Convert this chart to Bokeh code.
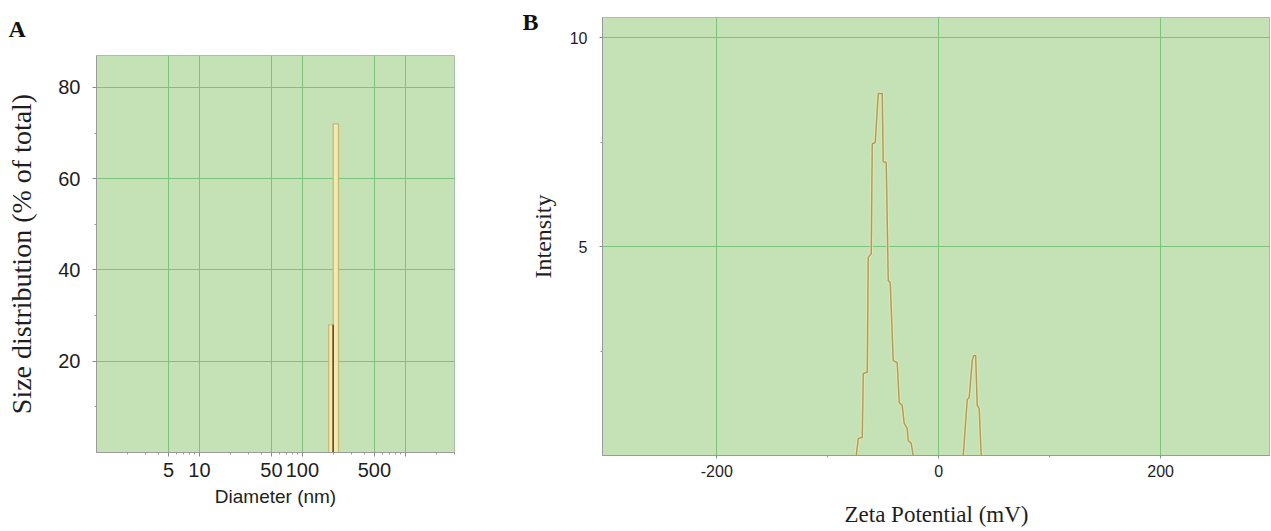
from bokeh.plotting import figure
from bokeh.layouts import row, column
from bokeh.models import FixedTicker, Range1d, LinearAxis, Title
from bokeh.embed import file_html
from bokeh.resources import INLINE

# ---------------- data ----------------
# Panel A: size distribution bars (diameter bin edges in nm, % of total)
size_bin_left = [180, 199]
size_bin_right = [199, 224]
size_pct = [28, 72]
size_major_ticks = [5, 10, 50, 100, 500, 1000]
size_tick_labels = ["5", "10", "50", "100", "500", ""]
size_minor_ticks = [2, 3, 4, 6, 7, 8, 9, 20, 30, 40, 60, 70, 80, 90,
                    200, 300, 400, 600, 700, 800, 900, 2000, 3000]
pct_major_ticks = [20, 40, 60, 80]
pct_minor_ticks = [10, 30, 50, 70]

# Panel B: zeta potential intensity curve (two peaks)
zeta1_mv = [-74.3, -72.5, -68.9, -68.0, -64.4, -63.5, -60.8, -59.9, -57.2, -54.5,
            -50.9, -50.0, -47.3, -45.5, -43.7, -41.0, -37.4, -35.6, -32.9, -31.1,
            -28.4, -27.5, -24.8, -23.0]
zeta1_int = [0.0, 0.41, 0.43, 1.96, 1.99, 4.74, 4.83, 7.46, 7.49, 8.66,
             8.66, 7.03, 7.01, 4.19, 4.14, 2.27, 2.22, 1.27, 1.20, 0.77,
             0.65, 0.36, 0.29, 0.0]
zeta2_mv = [22.1, 25.7, 27.5, 30.2, 31.5, 33.3, 34.7, 36.5, 38.3]
zeta2_int = [0.0, 1.34, 1.39, 2.27, 2.39, 2.39, 1.20, 1.12, 0.0]
zeta_major_ticks = [-200, 0, 200]
zeta_tick_labels = ["-200", "0", "200"]
zeta_minor_ticks = [-100, 100]
int_major_ticks = [5, 10]
int_minor_ticks = [2.5, 7.5]

# panel letters
panel_letters = ["A", "B"]
letterB_level = 10.38   # vertical place of the "B" letter, on panel B's intensity scale

# ---------------- style ----------------
BG = "#c5e2b6"
GRID = "#7cc47c"
TXT = "#1e1e1e"
SANS = "Liberation Sans"
SERIF = "Liberation Serif"
H = 530


def style_axes(p, tick_size):
    for ax in (p.xaxis, p.yaxis):
        ax.major_tick_in = 0
        ax.major_tick_out = 4
        ax.minor_tick_in = 0
        ax.minor_tick_out = 2
        ax.axis_line_color = "#9a9a9a"
        ax.major_tick_line_color = "#8a8a8a"
        ax.minor_tick_line_color = "#9a9a9a"
        ax.major_label_text_font = SANS
        ax.major_label_text_font_size = tick_size
        ax.major_label_text_color = TXT
        ax.axis_label_text_font = SERIF
        ax.axis_label_text_font_style = "normal"
        ax.axis_label_text_color = TXT
    p.background_fill_color = BG
    p.border_fill_color = "white"
    p.outline_line_color = "#a8bfa8"
    p.xgrid.grid_line_color = GRID
    p.ygrid.grid_line_color = GRID
    p.xgrid.grid_line_width = 1
    p.ygrid.grid_line_width = 1


# ---------------- Panel A ----------------
pA = figure(width=508, height=H, x_axis_type="log",
            x_range=Range1d(1, 3000), y_range=Range1d(0, 87),
            output_backend="svg", toolbar_location=None,
            min_border_left=96, min_border_right=54,
            min_border_top=55, min_border_bottom=H - 452)
pA.title = Title(text=panel_letters[0], align="left", offset=-88, standoff=24,
                 vertical_align="top", text_line_height=1.0,
                 text_font=SERIF, text_font_style="bold", text_font_size="24px",
                 text_color="#111111")
style_axes(pA, "20px")
pA.xaxis.ticker = FixedTicker(ticks=size_major_ticks, minor_ticks=size_minor_ticks)
pA.xgrid.ticker = FixedTicker(ticks=size_major_ticks)
pA.xaxis.major_label_overrides = {t: l for t, l in zip(size_major_ticks, size_tick_labels)}
pA.yaxis.ticker = FixedTicker(ticks=pct_major_ticks, minor_ticks=pct_minor_ticks)
pA.ygrid.ticker = FixedTicker(ticks=pct_major_ticks)
pA.xaxis.axis_label = "Diameter (nm)"
pA.xaxis.axis_label_text_font = SANS
pA.xaxis.axis_label_text_font_size = "19px"
pA.xaxis.major_label_standoff = 6
pA.xaxis.axis_label_standoff = 6
pA.yaxis.axis_label = "Size distribution (% of total)"
pA.yaxis.axis_label_text_font_size = "28px"
pA.yaxis.major_label_standoff = 12
pA.yaxis.axis_label_standoff = 18

pA.quad(left=size_bin_left, right=size_bin_right, bottom=0, top=size_pct,
        fill_color="#eef0b4", fill_alpha=0.9, line_color="#c9b56a", line_width=1.2)
pA.segment(x0=size_bin_right[:1], y0=[0], x1=size_bin_right[:1], y1=size_pct[:1],
           line_color="#8a3b1e", line_width=1.6)

# ---------------- Panel B ----------------
pB = figure(width=762, height=H,
            x_range=Range1d(-303, 299), y_range=Range1d(0, 10.48),
            output_backend="svg", toolbar_location=None,
            min_border_left=94, min_border_right=0,
            min_border_top=17, min_border_bottom=H - 455)
style_axes(pB, "16px")
pB.xaxis.ticker = FixedTicker(ticks=zeta_major_ticks, minor_ticks=zeta_minor_ticks)
pB.xaxis.major_label_overrides = {t: l for t, l in zip(zeta_major_ticks, zeta_tick_labels)}
pB.xgrid.ticker = FixedTicker(ticks=zeta_major_ticks)
pB.yaxis.ticker = FixedTicker(ticks=int_major_ticks, minor_ticks=int_minor_ticks)
pB.ygrid.ticker = FixedTicker(ticks=int_major_ticks)
pB.xaxis.major_tick_out = 3
pB.yaxis.major_tick_out = 3
pB.xaxis.axis_label = "Zeta Potential (mV)"
pB.xaxis.axis_label_text_font_size = "23px"
pB.xaxis.major_label_standoff = 6
pB.xaxis.axis_label_standoff = 22
pB.yaxis.axis_label = "Intensity"
pB.yaxis.axis_label_text_font_size = "24px"
pB.yaxis.major_label_standoff = 12
pB.yaxis.axis_label_standoff = 11

# outer left axis that only carries the panel letter "B"
letter_axis = LinearAxis(ticker=FixedTicker(ticks=[letterB_level], minor_ticks=[]),
                         major_label_overrides={letterB_level: panel_letters[1]},
                         axis_line_color=None, major_tick_line_color=None,
                         minor_tick_line_color=None, major_tick_out=0, major_tick_in=0,
                         minor_tick_out=0, minor_tick_in=0,
                         major_label_standoff=-12,
                         major_label_text_font=SERIF, major_label_text_font_style="bold",
                         major_label_text_font_size="24px", major_label_text_color="#111111")
pB.add_layout(letter_axis, "left")

pB.line(zeta1_mv, zeta1_int, line_color="#f2ecb0", line_width=3.5, line_alpha=0.6)
pB.line(zeta1_mv, zeta1_int, line_color="#b39a5c", line_width=1.5)
pB.line(zeta2_mv, zeta2_int, line_color="#f2ecb0", line_width=3.5, line_alpha=0.6)
pB.line(zeta2_mv, zeta2_int, line_color="#b39a5c", line_width=1.5)

layout = row(column(pA), column(pB), spacing=0)
open("out.html", "w").write(file_html(layout, INLINE))
